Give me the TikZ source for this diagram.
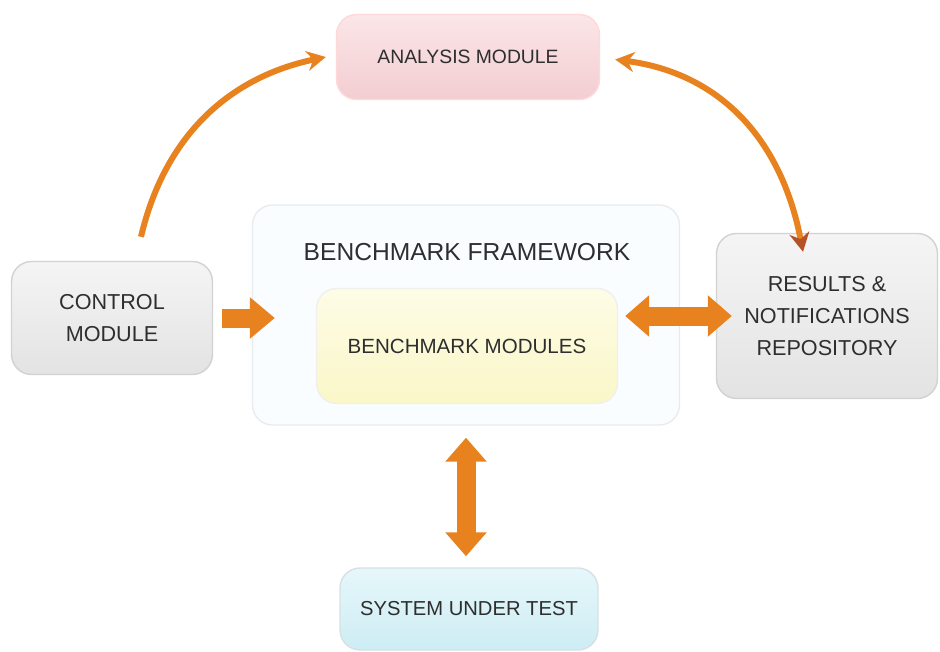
\documentclass[tikz,border=0pt]{standalone}
\usepackage{fontspec}
\setmainfont{Liberation Sans}
\usetikzlibrary{arrows.meta}

\definecolor{arrorange}{HTML}{E8821E}
\definecolor{arrdark}{HTML}{B4502A}
\definecolor{txtgray}{HTML}{2E2E2E}
\definecolor{pinktop}{HTML}{FBE6E8}
\definecolor{pinkbot}{HTML}{F3CDD1}
\definecolor{cyantop}{HTML}{E6F7FA}
\definecolor{cyanbot}{HTML}{CDEDF4}
\definecolor{yeltop}{HTML}{FDFCE6}
\definecolor{yelbot}{HTML}{FAF7C8}

\tikzset{
  box/.style={rounded corners=0.4cm, align=center, text=txtgray, line width=0.8pt},
  blockarrow/.style={draw=arrorange, line width=0.38cm,
    -{Triangle[width=0.8cm,length=0.5cm]}},
  dblockarrow/.style={draw=arrorange, line width=0.38cm,
    {Triangle[width=0.8cm,length=0.48cm]}-{Triangle[width=0.8cm,length=0.48cm]}},
  curvearrow/.style={draw=arrorange, line width=3.4pt}
}

\begin{document}
\begin{tikzpicture}[x=0.02cm,y=-0.02cm]
      \useasboundingbox (0,0) rectangle (940,652);
      % boxes
      \node[box, draw=red!15, top color=pinktop, bottom color=pinkbot,
        minimum width=5.26cm, minimum height=1.7cm,
        font=\fontsize{11}{13}\selectfont] (ana) at (468,57) {ANALYSIS MODULE};
      \node[box, draw=cyan!10!gray!18, fill=cyan!2,
        minimum width=8.54cm, minimum height=4.4cm] (frame) at (466,315) {};
      \node[text=txtgray, font=\fontsize{14}{16}\selectfont] (title) at (467,252) {BENCHMARK FRAMEWORK};
      \node[box, draw=yellow!10!gray!15, top color=yeltop, bottom color=yelbot,
        minimum width=6.02cm, minimum height=2.3cm,
        font=\fontsize{11.7}{14}\selectfont] (mods) at (467,346) {BENCHMARK MODULES};
      \node[box, draw=gray!35, top color=gray!8, bottom color=gray!22,
        minimum width=4.02cm, minimum height=2.26cm,
        font=\fontsize{12.3}{18}\selectfont] (ctrl) at (112,318) {CONTROL\\MODULE};
      \node[box, draw=gray!35, top color=gray!8, bottom color=gray!22,
        minimum width=4.42cm, minimum height=3.3cm,
        font=\fontsize{12.3}{18}\selectfont] (res) at (827,316) {RESULTS \&\\NOTIFICATIONS\\REPOSITORY};
      \node[box, draw=cyan!20!gray!30, top color=cyantop, bottom color=cyanbot,
        minimum width=5.16cm, minimum height=1.64cm,
        font=\fontsize{11.5}{14}\selectfont] (sut) at (469,609) {SYSTEM UNDER TEST};
      % block arrows
      \draw[blockarrow] ([xshift=0.18cm]ctrl.east) -- ([xshift=0.46cm]ctrl.east -| frame.west);
      \draw[dblockarrow] ([xshift=0.14cm]mods.east |- res.west) -- ([xshift=0.32cm]res.west);
      \draw[dblockarrow] ([yshift=-0.24cm]frame.south) -- ([yshift=0.22cm]frame.south |- sut.north);
      % curved arrows
      \draw[curvearrow, -{Stealth[length=0.38cm,width=0.4cm]}]
        ([shift={(0.58cm,0.48cm)}]ctrl.north) .. controls (164,139) and (226,78) .. ([xshift=-0.2cm]ana.west);
      \draw[curvearrow, {Stealth[length=0.38cm,width=0.4cm]}-{Stealth[length=0.38cm,width=0.4cm,color=arrdark]}]
        ([shift={(0.3cm,-0.05cm)}]ana.east) .. controls (718,73) and (781,137) .. ([shift={(-0.48cm,-0.38cm)}]res.north);
\end{tikzpicture}
\end{document}
